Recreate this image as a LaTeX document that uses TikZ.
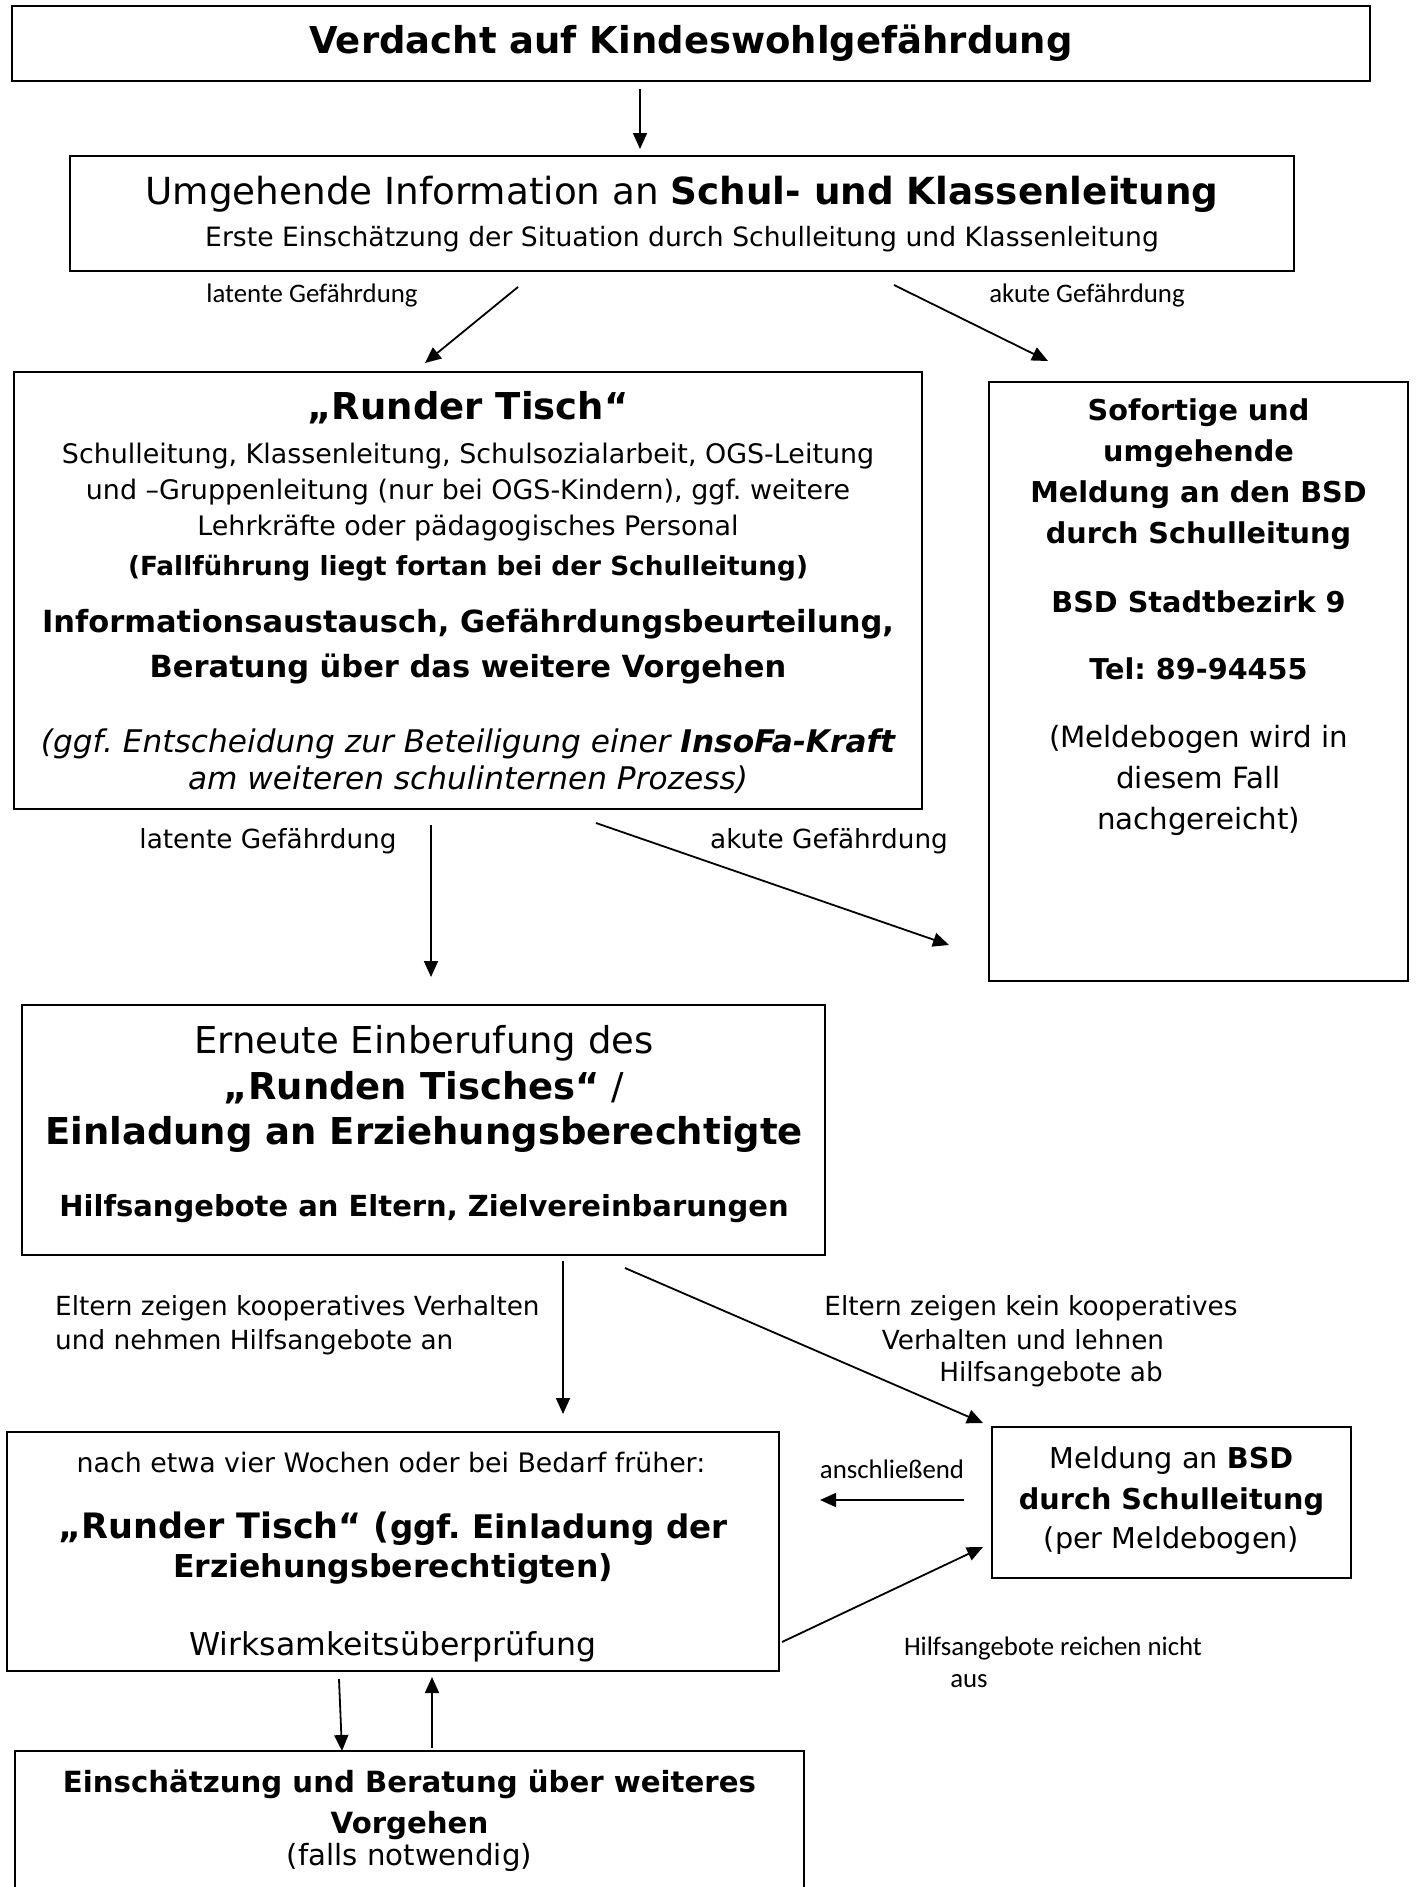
\documentclass[tikz,border=0pt]{standalone}
\usepackage{fontspec}
\setmainfont{DejaVu Sans}
\newfontfamily\calfont{Carlito}
\usetikzlibrary{arrows.meta}
\newcommand\fz[1]{\fontsize{#1}{#1}\selectfont}
\frenchspacing
\begin{document}
\begin{tikzpicture}[x=1pt,y=-1pt,
  box/.style={draw, line width=2pt, inner sep=0pt},
  txt/.style={anchor=base, inner sep=0pt},
  txtl/.style={anchor=base west, inner sep=0pt},
  arr/.style={line width=1.8pt, -{Triangle[length=16pt,width=14pt]}}]
\useasboundingbox[fill=white] (0,0) rectangle (1418,1887);

% boxes
\node[box, minimum width=1358pt, minimum height=75pt] (b1) at (691,43.5) {};
\node[box, minimum width=1224pt, minimum height=115pt] (b2) at (682,213.5) {};
\node[box, minimum width=908pt, minimum height=437pt] (b3) at (468,590.5) {};
\node[box, minimum width=419pt, minimum height=599pt] (b4) at (1198.5,681.5) {};
\node[box, minimum width=803pt, minimum height=250pt] (b5) at (423.5,1130) {};
\node[box, minimum width=772pt, minimum height=239pt] (b6) at (393,1551.5) {};
\node[box, minimum width=359pt, minimum height=151pt] (b7) at (1171.5,1502.5) {};
\node[box, minimum width=789pt, minimum height=169pt] (b8) at (409.5,1835.5) {};

% box 1 and 2 texts
\node[txt] (t1) at (691,53) {\fz{37}\bfseries Verdacht auf Kindeswohlgefährdung};
\node[txt] (t2) at (682,204) {\fz{37.3}Umgehende Information an \textbf{Schul- und Klassenleitung}};
\node[txt] (t3) at (682,246) {\fz{26.6}Erste Einschätzung der Situation durch Schulleitung und Klassenleitung};

\node[txt] (l1) at (312,302) {\calfont\fz{26.8}latente Gefährdung};
\node[txt] (l2) at (1087,302) {\calfont\fz{26.8}akute Gefährdung};

% box 3
\node[txt] (r1) at (468,419) {\fz{37}\bfseries „Runder Tisch“};
\node[txt] (r2) at (468,463) {\fz{26.9}Schulleitung, Klassenleitung, Schulsozialarbeit, OGS-Leitung};
\node[txt] (r3) at (468,499) {\fz{26.9}und –Gruppenleitung (nur bei OGS-Kindern), ggf. weitere};
\node[txt] (r4) at (468,535) {\fz{26.9}Lehrkräfte oder pädagogisches Personal};
\node[txt] (r5) at (468,575) {\fz{26.3}\bfseries (Fallführung liegt fortan bei der Schulleitung)};
\node[txt] (r6) at (468,632) {\fz{30.5}\bfseries Informationsaustausch, Gefährdungsbeurteilung,};
\node[txt] (r7) at (468,677) {\fz{30.5}\bfseries Beratung über das weitere Vorgehen};
\node[txt] (r8) at (468,752) {\fz{31.2}\itshape (ggf. Entscheidung zur Beteiligung einer \textbf{InsoFa-Kraft}};
\node[txt] (r9) at (468,789) {\fz{31.2}\itshape am weiteren schulinternen Prozess)};

% box 4
\node[txt] (s1) at (1198.5,420) {\fz{28.7}\bfseries Sofortige und};
\node[txt] (s2) at (1198.5,461) {\fz{28.7}\bfseries umgehende};
\node[txt] (s3) at (1198.5,502) {\fz{28.7}\bfseries Meldung an den BSD};
\node[txt] (s4) at (1198.5,543) {\fz{28.7}\bfseries durch Schulleitung};
\node[txt] (s5) at (1198.5,612) {\fz{28.7}\bfseries BSD Stadtbezirk 9};
\node[txt] (s6) at (1198.5,679) {\fz{28.7}\bfseries Tel: 89-94455};
\node[txt] (s7) at (1198.5,747) {\fz{29.3}(Meldebogen wird in};
\node[txt] (s8) at (1198.5,788) {\fz{29.3}diesem Fall};
\node[txt] (s9) at (1198.5,829) {\fz{29.3}nachgereicht)};

\node[txt] (l3) at (268,848) {\fz{26.3}latente Gefährdung};
\node[txt] (l4) at (829,848) {\fz{26.3}akute Gefährdung};

% box 5
\node[txt] (e1) at (424,1053) {\fz{37}Erneute Einberufung des};
\node[txt] (e2) at (424,1099) {\fz{37}\textbf{„Runden Tisches“} /};
\node[txt] (e3) at (424,1144) {\fz{37}\bfseries Einladung an Erziehungsberechtigte};
\node[txt] (e4) at (424,1216) {\fz{29}\bfseries Hilfsangebote an Eltern, Zielvereinbarungen};

\node[txtl] (l5) at (55,1315) {\fz{26.3}Eltern zeigen kooperatives Verhalten};
\node[txtl] (l6) at (55,1349) {\fz{26.3}und nehmen Hilfsangebote an};
\node[txt] (l7) at (1031,1315) {\fz{26.3}Eltern zeigen kein kooperatives};
\node[txt] (l8) at (1023,1349) {\fz{26.3}Verhalten und lehnen};
\node[txt] (l9) at (1051,1381) {\fz{26.3}Hilfsangebote ab};

% box 6
\node[txt] (w1) at (391,1472) {\fz{26.8}nach etwa vier Wochen oder bei Bedarf früher:};
\node[txt] (w2) at (393,1538) {\bfseries\fz{35}„Runder Tisch“ (\fz{32.5}ggf. Einladung der};
\node[txt] (w3) at (393,1577) {\fz{31.5}\bfseries Erziehungsberechtigten)};
\node[txt] (w4) at (393,1655) {\fz{31.5}Wirksamkeitsüberprüfung};

% box 7
\node[txt] (m1) at (1171.5,1468) {\fz{28.7}Meldung an \textbf{BSD}};
\node[txt] (m2) at (1171.5,1509) {\fz{28.7}\bfseries durch Schulleitung};
\node[txt] (m3) at (1171.5,1548) {\fz{28.7}(per Meldebogen)};

\node[txt] (l10) at (892,1478) {\calfont\fz{26.8}anschließend};
\node[txt] (l11) at (1053,1655) {\calfont\fz{26.8}Hilfsangebote reichen nicht};
\node[txt] (l12) at (969,1687) {\calfont\fz{26.8}aus};

% box 8
\node[txt] (v1) at (409.5,1792) {\fz{29.2}\bfseries Einschätzung und Beratung über weiteres};
\node[txt] (v2) at (409.5,1833) {\fz{29.2}\bfseries Vorgehen};
\node[txt] (v3) at (409.5,1865) {\fz{29.2}(falls notwendig)};

% arrow end points
\coordinate (a1s) at (640,89);   \coordinate (a1e) at (640,149);
\coordinate (a2s) at (518,287);  \coordinate (a2e) at (425,363);
\coordinate (a3s) at (894,285);  \coordinate (a3e) at (1048,361);
\coordinate (a4s) at (431,825);  \coordinate (a4e) at (431,977);
\coordinate (a5s) at (596,823);  \coordinate (a5e) at (949,945);
\coordinate (a6s) at (563,1261); \coordinate (a6e) at (563,1414);
\coordinate (a7s) at (625,1268); \coordinate (a7e) at (983,1423);
\coordinate (a8s) at (964,1500); \coordinate (a8e) at (820,1500);
\coordinate (a9s) at (782,1642); \coordinate (a9e) at (983,1547);
\coordinate (a10s) at (339,1679); \coordinate (a10e) at (342,1751);
\coordinate (a11s) at (432,1748); \coordinate (a11e) at (432,1677);

\foreach \i in {1,...,11} {\draw[arr] (a\i s) -- (a\i e);}
\end{tikzpicture}
\end{document}
